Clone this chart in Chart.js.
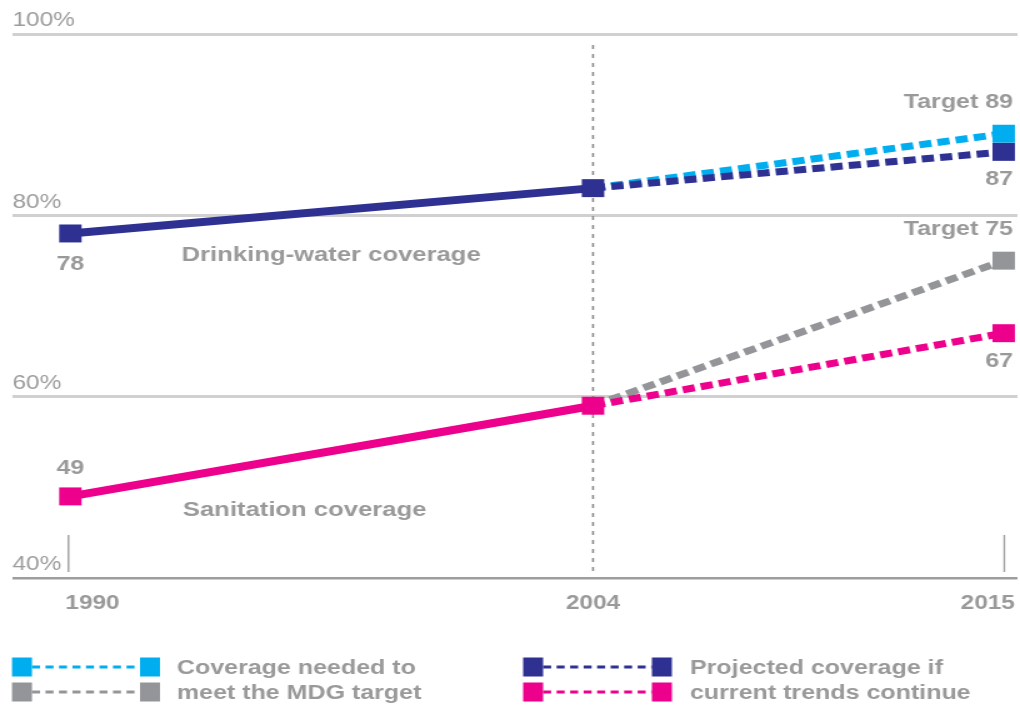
<!DOCTYPE html>
<html>
<head>
<meta charset="utf-8">
<script src="https://cdn.jsdelivr.net/npm/chart.js@4/dist/chart.umd.min.js"></script>
<style>
  html, body { margin: 0; padding: 0; background: #fff; overflow: hidden; }
  /* The figure is laid out 816px wide and widened to 1020px, giving the broad lettering of the print original */
  #wrap { width: 816px; height: 705px; transform: scaleX(1.25); transform-origin: 0 0; }
  canvas { display: block; }
</style>
</head>
<body>
<div id="wrap"><canvas id="chart" width="816" height="705"></canvas></div>
<script>
// ---- data ----
const years = [1990, 2004, 2015];
const baseYear = 2004;
const waterActual = [78, 83];        // 1990, 2004
const waterTarget = [83, 89];        // 2004, 2015
const waterProjected = [83, 87];     // 2004, 2015
const sanitationActual = [49, 59];   // 1990, 2004
const sanitationTarget = [59, 75];   // 2004, 2015
const sanitationProjected = [59, 67];// 2004, 2015
const yTicks = [40, 60, 80, 100];
const seriesNames = ['Drinking-water coverage', 'Sanitation coverage'];
const legendTexts = [
  ['Coverage needed to', 'meet the MDG target'],
  ['Projected coverage if', 'current trends continue']
];

// ---- styling ----
const NAVY = '#2e3192', SKY = '#00aeef', MAGENTA = '#ec008c', GREY = '#939598';
const TEXT = '#999999';
const FONT = "'Liberation Sans', Arial, Helvetica, sans-serif";
const MARK = 12.7;

const pts = (xs, ys) => ys.map((v, i) => ({ x: xs[i], y: v }));
const past = years.slice(0, 2), future = years.slice(1);

function solid(data, color) {
  return {
    data, borderColor: color, backgroundColor: color, borderWidth: 8,
    pointStyle: 'rect', pointRadius: MARK, pointHoverRadius: MARK, pointBorderWidth: 0,
    pointBackgroundColor: color
  };
}
function dashed(data, color) {
  return {
    data, borderColor: color, backgroundColor: color, borderWidth: 7,
    borderDash: [9.8, 4.9], borderCapStyle: 'butt',
    pointStyle: 'rect', pointRadius: [0, MARK], pointHoverRadius: [0, MARK], pointBorderWidth: 0,
    pointBackgroundColor: color
  };
}

// first dataset is drawn top-most
const datasets = [
  solid(pts(past, waterActual), NAVY),
  solid(pts(past, sanitationActual), MAGENTA),
  dashed(pts(future, waterProjected), NAVY),
  dashed(pts(future, sanitationProjected), MAGENTA),
  dashed(pts(future, waterTarget), SKY),
  dashed(pts(future, sanitationTarget), GREY)
];

// value labels: [dataset index, point index, prefix, align, dx, dy]
const valueLabels = [
  [0, 0, '', 'center', 0, 31],
  [1, 0, '', 'center', 0, -28],
  [4, 1, 'Target ', 'right', 7.5, -31],
  [2, 1, '', 'right', 7.5, 28],
  [5, 1, 'Target ', 'right', 7.5, -31],
  [3, 1, '', 'right', 7.5, 28]
];

const annotate = {
  id: 'annotate',
  beforeDatasetsDraw(chart) {
    const { ctx, chartArea, scales: { x } } = chart;
    ctx.save();
    // dotted line at the base year
    const xb = x.getPixelForValue(baseYear);
    ctx.strokeStyle = '#8c8c8c';
    ctx.lineWidth = 1.6;
    ctx.setLineDash([4, 5]);
    ctx.beginPath();
    ctx.moveTo(xb, chartArea.top + 11);
    ctx.lineTo(xb, chartArea.bottom - 5);
    ctx.stroke();
    // short ticks at both ends of the time axis
    ctx.setLineDash([]);
    ctx.strokeStyle = '#a0a0a0';
    ctx.lineWidth = 1.4;
    [years[0], years[years.length - 1]].forEach((yr, k) => {
      const px = x.getPixelForValue(yr) + (k === 0 ? -1.5 : 0.5);
      ctx.beginPath();
      ctx.moveTo(px, chartArea.bottom - 43);
      ctx.lineTo(px, chartArea.bottom - 6);
      ctx.stroke();
    });
    ctx.restore();
  },
  afterDatasetsDraw(chart) {
    const { ctx, chartArea, scales: { x, y } } = chart;
    ctx.save();
    ctx.fillStyle = TEXT;
    ctx.textBaseline = 'middle';

    // year labels
    ctx.font = 'bold 19.5px ' + FONT;
    years.forEach((yr, i) => {
      const px = x.getPixelForValue(yr);
      if (i === 0) { ctx.textAlign = 'left'; ctx.fillText(String(yr), px - 4, chartArea.bottom + 26); }
      else if (i === years.length - 1) { ctx.textAlign = 'right'; ctx.fillText(String(yr), px + 9, chartArea.bottom + 26); }
      else { ctx.textAlign = 'center'; ctx.fillText(String(yr), px, chartArea.bottom + 26); }
    });

    // value labels
    ctx.font = 'bold 20px ' + FONT;
    valueLabels.forEach(([di, pi, prefix, align, dx, dy]) => {
      const el = chart.getDatasetMeta(di).data[pi];
      const v = chart.data.datasets[di].data[pi].y;
      ctx.textAlign = align;
      ctx.fillText(prefix + v, el.x + dx, el.y + dy);
    });

    // series names
    ctx.font = 'bold 20.5px ' + FONT;
    ctx.textAlign = 'left';
    const x0 = x.getPixelForValue(years[0]) + 89;
    ctx.fillText(seriesNames[0], x0, y.getPixelForValue(75.6));
    ctx.fillText(seriesNames[1], x0 + 1, y.getPixelForValue(47.5));
    ctx.restore();
  },
  afterDraw(chart) {
    const { ctx } = chart;
    ctx.save();
    const rows = [667, 692];
    const cols = [
      { x1: 9.6, x2: 112, tx: 141.5, colors: [SKY, GREY], texts: legendTexts[0] },
      { x1: 418.5, x2: 521.5, tx: 552, colors: [NAVY, MAGENTA], texts: legendTexts[1] }
    ];
    const sw = 16, sh = 19;
    cols.forEach(col => {
      col.colors.forEach((c, r) => {
        const cy = rows[r];
        ctx.fillStyle = c;
        ctx.fillRect(col.x1, cy - sh / 2, sw, sh);
        ctx.fillRect(col.x2, cy - sh / 2, sw, sh);
        ctx.strokeStyle = c;
        ctx.lineWidth = 3;
        ctx.setLineDash([6.4, 4.4]);
        ctx.beginPath();
        ctx.moveTo(col.x1 + sw, cy);
        ctx.lineTo(col.x2, cy);
        ctx.stroke();
      });
      ctx.setLineDash([]);
      ctx.fillStyle = TEXT;
      ctx.font = 'bold 20px ' + FONT;
      ctx.textAlign = 'left';
      ctx.textBaseline = 'alphabetic';
      col.texts.forEach((t, r) => ctx.fillText(t, col.tx, rows[r] + 6.5));
    });
    ctx.restore();
  }
};

Chart.defaults.font.family = FONT;

new Chart(document.getElementById('chart'), {
  type: 'line',
  data: { datasets },
  options: {
    responsive: false,
    devicePixelRatio: 1,
    animation: false,
    events: [],
    layout: { autoPadding: false, padding: { left: 10, right: 2, top: 34, bottom: 127 } },
    plugins: { legend: { display: false }, tooltip: { enabled: false } },
    scales: {
      x: {
        type: 'linear',
        display: false,
        min: 1988.45,
        max: 2015.37,
        afterBuildTicks: s => { s.ticks = years.map(v => ({ value: v })); }
      },
      y: {
        type: 'linear',
        min: yTicks[0],
        max: yTicks[yTicks.length - 1],
        afterBuildTicks: s => { s.ticks = yTicks.map(v => ({ value: v })); },
        border: { display: false },
        grid: {
          drawTicks: false,
          color: c => (c.tick && c.tick.value === yTicks[0]) ? '#9d9d9d' : '#d0d0d0',
          lineWidth: c => (c.tick && c.tick.value === yTicks[0]) ? 2.5 : 3
        },
        ticks: {
          mirror: true,
          padding: 0,
          labelOffset: -13,
          color: '#9c9c9c',
          font: { size: 19.5, family: FONT },
          callback: v => v + '%'
        }
      }
    }
  },
  plugins: [annotate]
});
</script>
</body>
</html>
